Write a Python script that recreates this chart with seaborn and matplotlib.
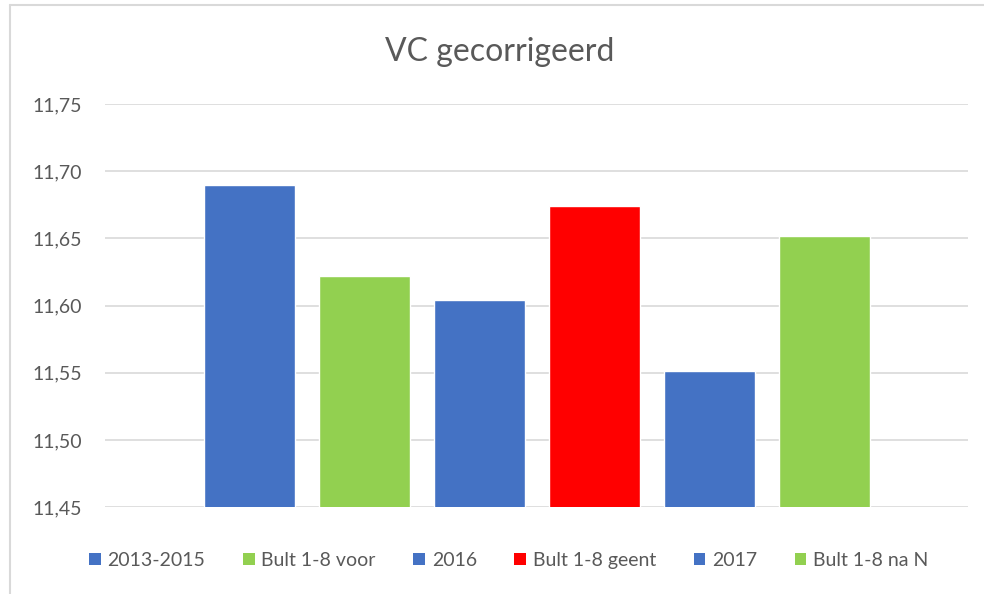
import matplotlib
matplotlib.use("Agg")
import matplotlib.pyplot as plt
from matplotlib.patches import Patch
from matplotlib.lines import Line2D
from matplotlib.ticker import FuncFormatter
import seaborn as sns
import pandas as pd

# Data
series = ["2013-2015", "Bult 1-8 voor", "2016", "Bult 1-8 geent", "2017", "Bult 1-8 na N"]
values = [11.690, 11.622, 11.604, 11.674, 11.551, 11.652]
colors = ["#4472C4", "#92D050", "#4472C4", "#FF0000", "#4472C4", "#92D050"]
yticks = [11.45, 11.50, 11.55, 11.60, 11.65, 11.70, 11.75]

sns.set_style("white")
plt.rcParams['font.family'] = ['Lato', 'DejaVu Sans']

df = pd.DataFrame({"serie": series, "vc": values})

fig = plt.figure(figsize=(9.84, 5.94), dpi=100)
ax = fig.add_axes([0.107, 0.146, 0.877, 0.679])

sns.barplot(data=df, x="serie", y="vc", hue="serie", palette=colors,
            legend=False, width=0.79, saturation=1, ax=ax, zorder=3)

ax.set_ylim(11.45, 11.75)
ax.set_xlim(-1.25, 6.25)
ax.set_yticks(yticks)
ax.yaxis.set_major_formatter(FuncFormatter(lambda v, p: f"{v:.2f}".replace(".", ",")))
ax.tick_params(axis="y", labelsize=14, labelcolor="#595959", length=0, pad=16.5)
ax.set_xticks([])
ax.set_xlabel("")
ax.set_ylabel("")
ax.grid(axis="y", color="#D9D9D9", linewidth=1.2, zorder=0)
for s in ax.spines.values():
    s.set_visible(False)

fig.text(0.508, 0.912, "VC gecorrigeerd", ha="center", va="center",
         fontsize=23, color="#595959")

# Legend
handles = [Patch(facecolor=c, edgecolor="none") for c in colors]
fig.legend(handles, series, loc="center", bbox_to_anchor=(0.517, 0.057), ncol=6,
           frameon=False, fontsize=14, labelcolor="#595959",
           handlelength=0.6, handleheight=0.6, handletextpad=0.35, columnspacing=1.93)

# Chart border
fig.add_artist(Line2D([10 / 984, 1], [1 - 5 / 594, 1 - 5 / 594], color="#D9D9D9", linewidth=1.5))
fig.add_artist(Line2D([10 / 984, 10 / 984], [0, 1 - 5 / 594], color="#D9D9D9", linewidth=1.5))

fig.savefig("out.png", dpi=100)
plt.close(fig)
